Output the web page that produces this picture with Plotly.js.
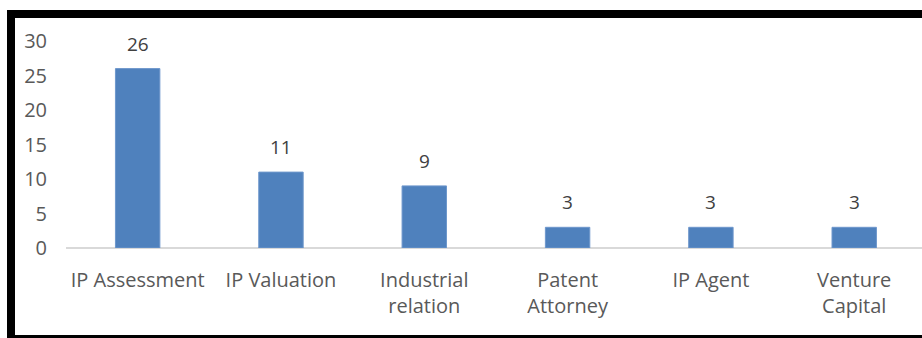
<!DOCTYPE html>
<html>
<head>
<meta charset="utf-8">
<script src="https://cdn.plot.ly/plotly-3.0.1.min.js"></script>
<style>
  html, body { margin: 0; padding: 0; background: #ffffff; }
  #wrap { position: relative; width: 922px; height: 338px; overflow: hidden; }
  #chart { position: absolute; left: 0; top: 0; width: 922px; height: 338px; }
  #frame { position: absolute; left: 7px; top: 10px; width: 930px; height: 317px;
           border-top: 8px solid #000; border-left: 8px solid #000; border-bottom: 3px solid #000;
           box-sizing: content-box; pointer-events: none; }
</style>
</head>
<body>
<div id="wrap">
  <div id="chart"></div>
  <div id="frame"></div>
</div>
<script>
const categories = ["IP Assessment", "IP Valuation", "Industrial<br>relation", "Patent<br>Attorney", "IP Agent", "Venture<br>Capital"];
const values = [26, 11, 9, 3, 3, 3];
const yTicks = [0, 5, 10, 15, 20, 25, 30];

const FONT = "Open Sans, Lato, sans-serif";

const trace = {
  type: "bar",
  x: categories,
  y: values,
  marker: { color: "#4f81bd", line: { color: "#6e97cc", width: 1 } },
  hoverinfo: "skip",
  cliponaxis: false
};

const annotations = categories.map((c, i) => ({
  x: c, y: values[i], xref: "x", yref: "y",
  text: String(values[i]),
  showarrow: false,
  yanchor: "middle",
  yshift: 25,
  font: { family: FONT, size: 19, color: "#404040" }
}));

const layout = {
  width: 922, height: 338,
  margin: { l: 66, r: 0, t: 41, b: 90, pad: 0 },
  paper_bgcolor: "#ffffff",
  plot_bgcolor: "#ffffff",
  showlegend: false,
  bargap: 0.69,
  xaxis: {
    type: "category",
    range: [-0.5, 5.473],
    showgrid: false,
    zeroline: false,
    showline: false,
    ticks: "",
    ticklabelstandoff: 18,
    tickfont: { family: FONT, size: 20, color: "#595959" },
    fixedrange: true
  },
  yaxis: {
    range: [0, 30],
    tickvals: yTicks,
    ticktext: yTicks.map(String),
    showgrid: false,
    zeroline: true,
    zerolinecolor: "#d9d9d9",
    zerolinewidth: 2,
    showline: false,
    ticks: "",
    ticklabelstandoff: 18,
    tickfont: { family: FONT, size: 20, color: "#595959" },
    fixedrange: true
  },
  annotations: annotations
};

Plotly.newPlot("chart", [trace], layout, { displayModeBar: false, staticPlot: true });
</script>
</body>
</html>
